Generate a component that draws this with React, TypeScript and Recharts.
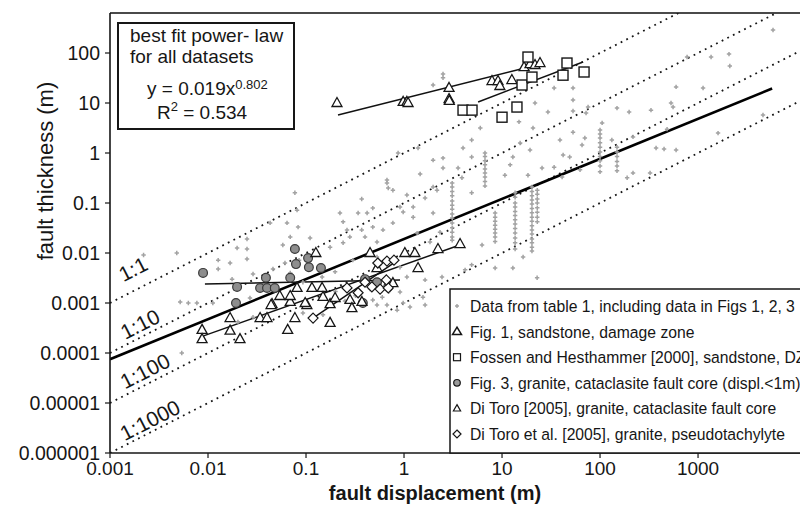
import { ComposedChart, Scatter, XAxis, YAxis, ReferenceLine } from "recharts";

const X_TICKS = [0.001, 0.01, 0.1, 1, 10, 100, 1000];
const X_TICK_LABELS = ["0.001", "0.01", "0.1", "1", "10", "100", "1000"];
const Y_TICKS = [0.000001, 0.00001, 0.0001, 0.001, 0.01, 0.1, 1, 10, 100];
const Y_TICK_LABELS = ["0.000001", "0.00001", "0.0001", "0.001", "0.01", "0.1", "1", "10", "100"];

// table 1 data (grey), scattered part
const TABLE1_SCATTER: [number, number][] = [
  [0.0048, 0.01], [0.0052, 0.00105], [0.0054, 0.0001], [0.0022, 0.0091], [0.0063, 0.001], [0.0077, 0.001],
  [0.0112, 0.001], [0.0127, 0.0072], [0.0127, 0.0048], [0.0168, 0.0063], [0.0176, 0.003], [0.0198, 0.0126],
  [0.025, 0.019], [0.025, 0.012], [0.025, 0.0076], [0.0288, 0.0038], [0.0268, 0.00126], [0.043, 0.04],
  [0.046, 0.0048], [0.046, 0.002], [0.058, 0.0145], [0.061, 0.0063], [0.064, 0.04], [0.069, 0.021],
  [0.069, 0.004], [0.077, 0.16], [0.081, 0.072], [0.083, 0.033], [0.085, 0.0072], [0.11, 0.02],
  [0.093, 0.0026], [0.093, 0.00063], [0.04, 0.00058], [0.0202, 0.00042], [0.0288, 0.00052], [0.149, 0.00058],
  [0.146, 0.0033], [0.198, 0.0042], [0.176, 0.013], [0.239, 0.042], [0.239, 0.016], [0.222, 0.063],
  [0.262, 0.029], [0.28, 0.021], [0.3, 0.0072], [0.34, 0.063], [0.37, 0.12], [0.37, 0.029], [0.4, 0.021],
  [0.42, 0.063], [0.48, 0.079], [0.48, 0.033], [0.53, 0.0166], [0.53, 0.0083], [0.48, 0.00115],
  [0.53, 0.00091], [0.67, 0.00091], [0.61, 0.029], [0.67, 0.29], [0.67, 0.25], [0.69, 0.2], [0.77, 0.04],
  [0.77, 0.18], [0.87, 1.0], [0.85, 0.00072], [0.91, 0.0052], [0.91, 0.00166], [0.91, 0.083], [0.98, 0.066],
  [0.98, 0.001], [1.07, 0.145], [1.07, 0.0033], [1.15, 0.00083], [1.24, 0.052], [1.24, 0.083], [1.36, 0.025],
  [1.39, 1.26], [1.46, 0.38], [1.56, 0.0013], [1.64, 0.126], [1.64, 0.0029], [1.64, 0.00091], [1.84, 0.0166],
  [1.98, 22.9], [1.98, 0.72], [1.98, 0.21], [1.98, 0.063], [2.17, 0.18], [2.33, 0.026], [2.44, 0.0033],
  [2.5, 38], [2.5, 32], [2.5, 0.79], [2.5, 0.5], [3.56, 0.5], [3.9, 0.32], [4.0, 1.26], [4.2, 0.0046],
  [4.9, 0.0058], [4.9, 1.82], [4.9, 0.83], [4.9, 0.16], [6.0, 3.16], [6.25, 0.0145], [8.5, 0.005],
  [10.7, 0.36], [12.1, 0.58], [12.9, 0.83], [12.9, 0.005], [14.9, 4.2], [15.3, 1.58], [16.4, 0.0083],
  [18.4, 0.36], [19.3, 1.15], [20.7, 3.16], [21.7, 10], [22.8, 0.0032], [25.6, 0.5], [29.4, 6.6], [34, 20],
  [34, 0.52], [39, 1.82], [41, 0.33], [42, 0.91], [49, 0.83], [53, 20], [53, 11.5], [53, 6.9], [53, 2.6],
  [62.5, 0.46], [65.5, 1.45], [70, 2.0], [72, 6.3], [75.5, 8.3], [105, 4.0], [132, 1.82], [149, 7.9],
  [189, 0.32], [198, 6.6], [217, 0.4], [217, 2.1], [324, 0.4], [331, 7.2], [373, 1.26], [450, 1.2],
  [483, 3.0], [530, 10], [556, 8.3], [597, 21], [597, 1.15], [773, 83], [1125, 20], [1358, 83], [1600, 2.5],
  [2070, 95], [2110, 55], [4600, 5.75], [5820, 288],
  [0.2, 0.0017], [0.25, 0.0011], [0.32, 0.0014], [0.6, 0.0013], [0.7, 0.0017], [0.45, 0.0019],
];

// table 1 data (grey), dense vertical columns
const COLUMN_X = [3.1, 6.7, 8.5, 13.6, 20.2, 22.9, 100, 149];
const COLUMN_Y = [
  [0.25, 0.21, 0.17, 0.14, 0.11, 0.09, 0.075, 0.06, 0.05, 0.04, 0.032, 0.026, 0.021, 0.018],
  [1.0, 0.85, 0.7, 0.58, 0.48, 0.4, 0.33, 0.27, 0.22],
  [0.063, 0.052, 0.043, 0.036, 0.03, 0.025, 0.021, 0.017],
  [0.16, 0.13, 0.1, 0.083, 0.068, 0.056, 0.046, 0.038, 0.031, 0.025, 0.02, 0.016, 0.012],
  [0.21, 0.17, 0.14, 0.115, 0.095, 0.078, 0.064, 0.052, 0.043, 0.035, 0.029, 0.024, 0.019, 0.016, 0.013, 0.011],
  [0.18, 0.15, 0.12, 0.1, 0.08, 0.065, 0.052, 0.042],
  [2.9, 2.4, 2.0, 1.6, 1.3, 1.05, 0.85, 0.7, 0.55, 0.42],
  [1.3, 1.05, 0.85, 0.68, 0.55, 0.44],
];

const FIG1_DAMAGE: [number, number][] = [
  [0.207, 10], [0.98, 10.5], [1.07, 10.5], [1.1, 10], [2.88, 20], [2.88, 12], [2.9, 11], [7.9, 27.5],
  [9.1, 27.5], [9.5, 21.9], [12.6, 28.8], [16.8, 52], [19.3, 60], [21.7, 57.5], [24.4, 63],
];
const FOSSEN: [number, number][] = [
  [4.0, 7.2], [4.94, 7.2], [10, 5.2], [14.2, 8.3], [16, 22.9], [18.4, 83], [20.2, 33], [41.9, 36], [46, 63], [68.7, 41.7],
];
const FIG3_GRANITE: [number, number][] = [
  [0.0089, 0.004], [0.0198, 0.0021], [0.0193, 0.001], [0.039, 0.0032], [0.034, 0.002], [0.04, 0.002],
  [0.048, 0.002], [0.069, 0.0032], [0.077, 0.012], [0.079, 0.006], [0.105, 0.0079], [0.107, 0.0052],
  [0.142, 0.005], [0.4, 0.003], [0.53, 0.0026], [0.69, 0.0021], [0.38, 0.001],
];
const DI_TORO_CATACLASITE: [number, number][] = [
  [0.0087, 0.00029], [0.0087, 0.00019], [0.0168, 0.0005], [0.0168, 0.00028], [0.0212, 0.00019], [0.034, 0.0005],
  [0.04, 0.0005], [0.045, 0.00095], [0.065, 0.00029], [0.069, 0.00105], [0.077, 0.0005], [0.081, 0.002],
  [0.054, 0.00138], [0.069, 0.00138], [0.044, 0.00091], [0.102, 0.00091], [0.115, 0.002], [0.146, 0.002],
  [0.149, 0.00132], [0.098, 0.001], [0.176, 0.00095], [0.176, 0.0004], [0.198, 0.00126], [0.281, 0.00115],
  [0.294, 0.00079], [0.372, 0.00105], [0.126, 0.01], [0.45, 0.01], [0.53, 0.005], [0.77, 0.0025],
  [1.02, 0.01], [1.29, 0.01], [1.39, 0.005], [2.22, 0.012], [3.73, 0.0151],
];
const DI_TORO_PSEUDO: [number, number][] = [
  [0.118, 0.0005], [0.262, 0.002], [0.34, 0.0016], [0.47, 0.0021], [0.57, 0.0019], [0.69, 0.002],
  [0.54, 0.0063], [0.67, 0.0069], [0.79, 0.0072], [0.66, 0.0029], [0.4, 0.0026],
];

// fitted lines (end points)
const FIT_ALL = [{ x: 0.001, y: 0.000075 }, { x: 5700, y: 19.5 }];
const FIT_DAMAGE = [{ x: 0.212, y: 5.75 }, { x: 20.7, y: 55 }];
const FIT_FOSSEN = [{ x: 5.7, y: 10.5 }, { x: 67, y: 66 }];
const FIT_FIG3 = [{ x: 0.0093, y: 0.0024 }, { x: 0.91, y: 0.0029 }];
const FIT_CATACLASITE = [{ x: 0.009, y: 0.00022 }, { x: 3.9, y: 0.015 }];
const FIT_PSEUDO = [{ x: 0.118, y: 0.0005 }, { x: 0.81, y: 0.0066 }];

// thickness : displacement ratio lines
const RATIO_LINES = [
  { label: "1:1", seg: [{ x: 0.001, y: 0.001 }, { x: 631, y: 631 }] },
  { label: "1:10", seg: [{ x: 0.001, y: 0.0001 }, { x: 6310, y: 631 }] },
  { label: "1:100", seg: [{ x: 0.001, y: 0.00001 }, { x: 11500, y: 115 }] },
  { label: "1:1000", seg: [{ x: 0.001, y: 0.000001 }, { x: 11500, y: 11.5 }] },
];
const RATIO_LABEL_POS = [[133, 269], [140, 324], [145, 371], [150, 420]];

const LEGEND_ITEMS = [
  { label: "Data from table 1, including data in Figs 1, 2, 3", marker: "grey" },
  { label: "Fig. 1, sandstone, damage zone", marker: "tri" },
  { label: "Fossen and Hesthammer [2000], sandstone, DZ", marker: "square" },
  { label: "Fig. 3, granite, cataclasite fault core (displ.<1m)", marker: "circle" },
  { label: "Di Toro [2005], granite, cataclasite fault core", marker: "triSmall" },
  { label: "Di Toro et al. [2005], granite, pseudotachylyte", marker: "diamond" },
];

const FONT = '"Liberation Sans", Arial, Helvetica, sans-serif';
const INK = "#161616";
const toPts = (arr: [number, number][]) => arr.map(([x, y]) => ({ x, y }));

const GreyMark = ({ cx, cy }: any) => (
  <path d={`M${cx - 2.2},${cy}h4.4M${cx},${cy - 2.2}v4.4`} stroke="#a2a2a2" strokeWidth={1.5} />
);
const TriMark = ({ cx, cy }: any) => (
  <path d={`M${cx},${cy - 5.5}L${cx + 5},${cy + 3.5}L${cx - 5},${cy + 3.5}Z`} fill="#fff" stroke={INK} strokeWidth={1.3} />
);
const SquareMark = ({ cx, cy }: any) => (
  <rect x={cx - 5} y={cy - 5} width={10} height={10} fill="#fff" stroke={INK} strokeWidth={1.4} />
);
const CircleMark = ({ cx, cy }: any) => (
  <circle cx={cx} cy={cy} r={4.4} fill="#8e8e8e" stroke="#3a3a3a" strokeWidth={1.2} />
);
const DiamondMark = ({ cx, cy }: any) => (
  <path d={`M${cx},${cy - 5}L${cx + 5},${cy}L${cx},${cy + 5}L${cx - 5},${cy}Z`} fill="#fff" stroke={INK} strokeWidth={1.2} />
);

function XTick({ x, y, payload }: any) {
  const i = X_TICKS.indexOf(payload.value);
  return (
    <text x={x} y={y} dy="0.71em" textAnchor="middle" fontSize={19} fill={INK} fontFamily={FONT}>
      {X_TICK_LABELS[i]}
    </text>
  );
}

function YTick({ x, y, payload }: any) {
  const i = Y_TICKS.indexOf(payload.value);
  return (
    <text x={x} y={y} dy="0.36em" textAnchor="end" fontSize={19.5} fill={INK} fontFamily={FONT}>
      {Y_TICK_LABELS[i]}
    </text>
  );
}

function LegendMarker({ kind, cx, cy }: { kind: string; cx: number; cy: number }) {
  if (kind === "grey") return <path d={`M${cx - 2},${cy}h4M${cx},${cy - 2}v4`} stroke="#a2a2a2" strokeWidth={1.4} />;
  if (kind === "tri") return <path d={`M${cx},${cy - 4.5}L${cx + 4.5},${cy + 3}L${cx - 4.5},${cy + 3}Z`} fill="none" stroke={INK} strokeWidth={1.5} />;
  if (kind === "square") return <rect x={cx - 3.5} y={cy - 3.5} width={7} height={7} fill="none" stroke={INK} strokeWidth={1.2} />;
  if (kind === "circle") return <circle cx={cx} cy={cy} r={3.3} fill="#9a9a9a" stroke={INK} strokeWidth={1.2} />;
  if (kind === "triSmall") return <path d={`M${cx},${cy - 3.8}L${cx + 3.6},${cy + 2.6}L${cx - 3.6},${cy + 2.6}Z`} fill="none" stroke={INK} strokeWidth={1.2} />;
  return <path d={`M${cx},${cy - 4}L${cx + 4},${cy}L${cx},${cy + 4}L${cx - 4},${cy}Z`} fill="none" stroke={INK} strokeWidth={1.2} />;
}

export default function App() {
  const table1 = [
    ...toPts(TABLE1_SCATTER),
    ...COLUMN_X.flatMap((x, i) => COLUMN_Y[i].map((y) => ({ x, y }))),
  ];
  const trendLines = [FIT_DAMAGE, FIT_FOSSEN, FIT_FIG3, FIT_CATACLASITE, FIT_PSEUDO];

  return (
    <div style={{ position: "absolute", left: 0, top: 0, width: 800, height: 506, overflow: "hidden", background: "#fff", fontFamily: FONT }}>
      <ComposedChart width={810} height={506} margin={{ top: 13, right: 8, bottom: 0, left: 0 }}>
        <XAxis
          dataKey="x"
          type="number"
          scale="log"
          domain={[0.001, 11500]}
          allowDataOverflow
          ticks={X_TICKS}
          interval={0}
          height={53}
          tick={<XTick />}
          tickSize={5}
          tickMargin={4}
          axisLine={{ stroke: INK, strokeWidth: 1.6 }}
          tickLine={{ stroke: INK, strokeWidth: 1.2 }}
        />
        <YAxis
          dataKey="y"
          type="number"
          scale="log"
          domain={[0.000001, 631]}
          allowDataOverflow
          ticks={Y_TICKS}
          interval={0}
          width={110}
          tick={<YTick />}
          tickSize={5}
          tickMargin={5}
          axisLine={{ stroke: INK, strokeWidth: 1.6 }}
          tickLine={{ stroke: INK, strokeWidth: 1.2 }}
        />
        <ReferenceLine y={631} stroke="#4a4a4a" strokeWidth={2} />
        <Scatter data={table1} dataKey="y" shape={<GreyMark />} isAnimationActive={false} />
        {RATIO_LINES.map((r) => (
          <ReferenceLine key={r.label} segment={r.seg} ifOverflow="hidden" stroke={INK} strokeWidth={1.8} strokeDasharray="1.8 4.5" />
        ))}
        <ReferenceLine segment={FIT_ALL} ifOverflow="hidden" stroke="#000" strokeWidth={2.6} />
        <Scatter data={toPts(FIG3_GRANITE)} dataKey="y" shape={<CircleMark />} isAnimationActive={false} />
        <Scatter data={toPts(DI_TORO_CATACLASITE)} dataKey="y" shape={<TriMark />} isAnimationActive={false} />
        <Scatter data={toPts(DI_TORO_PSEUDO)} dataKey="y" shape={<DiamondMark />} isAnimationActive={false} />
        <Scatter data={toPts(FIG1_DAMAGE)} dataKey="y" shape={<TriMark />} isAnimationActive={false} />
        <Scatter data={toPts(FOSSEN)} dataKey="y" shape={<SquareMark />} isAnimationActive={false} />
        {trendLines.map((seg, i) => (
          <ReferenceLine key={i} segment={seg} ifOverflow="hidden" stroke="#111" strokeWidth={1.5} />
        ))}
      </ComposedChart>

      <svg width={800} height={506} style={{ position: "absolute", left: 0, top: 0, pointerEvents: "none" }} fontFamily={FONT} fill={INK}>
        {/* power-law box */}
        <rect x={118} y={23} width={176} height={106} fill="#fff" stroke={INK} strokeWidth={2} />
        <text x={130} y={42} fontSize={19}>best fit power- law</text>
        <text x={130} y={63} fontSize={19}>for all datasets</text>
        <text x={147} y={95} fontSize={19}>
          y = 0.019x<tspan dy={-6} fontSize={13}>0.802</tspan>
        </text>
        <text x={157} y={119} fontSize={19}>
          R<tspan dy={-8} fontSize={13}>2</tspan>
          <tspan dy={8}> = 0.534</tspan>
        </text>

        {RATIO_LINES.map((r, i) => (
          <text
            key={r.label}
            transform={`translate(${RATIO_LABEL_POS[i][0]},${RATIO_LABEL_POS[i][1]}) rotate(-27)`}
            textAnchor="middle"
            dominantBaseline="central"
            fontSize={21}
          >
            {r.label}
          </text>
        ))}

        {/* legend */}
        <rect x={450} y={289} width={360} height={164} fill="#fff" stroke={INK} strokeWidth={1.5} />
        {LEGEND_ITEMS.map((it, i) => {
          const cy = 306 + i * 25.6;
          return (
            <g key={it.label}>
              <LegendMarker kind={it.marker} cx={457} cy={cy} />
              <text transform={`translate(470,${cy + 6}) scale(0.925,1)`} fontSize={17}>
                {it.label}
              </text>
            </g>
          );
        })}

        <text x={435} y={500} textAnchor="middle" fontSize={20} fontWeight="bold">
          fault displacement (m)
        </text>
        <text transform="translate(53,171) rotate(-90)" textAnchor="middle" fontSize={22}>
          fault thickness (m)
        </text>
      </svg>
    </div>
  );
}
